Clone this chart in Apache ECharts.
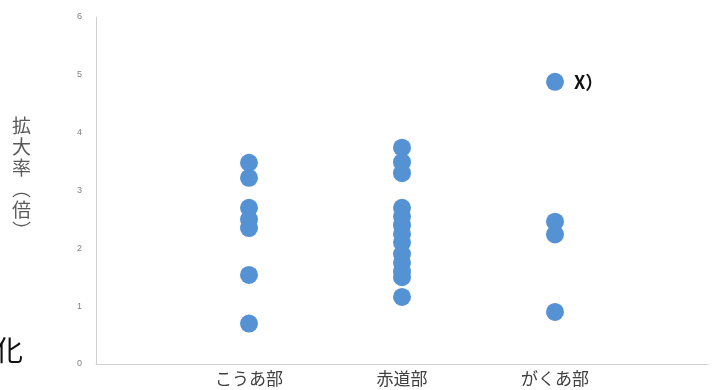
<!DOCTYPE html>
<html>
<head>
<meta charset="utf-8">
<style>
  html, body { margin: 0; padding: 0; background: #ffffff; }
  #chart { width: 718px; height: 390px; }
</style>
<script src="https://cdn.jsdelivr.net/npm/echarts@6/dist/echarts.min.js"></script>
</head>
<body>
<div id="chart"></div>
<script>
// Sites sampled (placed at x = 1, 2, 3 on the horizontal value axis)
const categories = ['こうあ部', '赤道部', 'がくあ部'];

// Magnification ratio (times) per site
const kouabu = [3.48, 3.22, 2.70, 2.50, 2.35, 1.54, 0.70];
const sekidobu = [3.74, 3.49, 3.30, 2.70, 2.55, 2.40, 2.25, 2.10, 1.90, 1.75, 1.60, 1.50, 1.16];
const gakuabu = [4.88, 2.46, 2.24, 0.90];

// Value axis ticks
const yTicks = [0, 1, 2, 3, 4, 5, 6];

// Point flagged with an annotation
const flaggedValue = 4.88;
const flaggedText = 'X）';

const groups = [kouabu, sekidobu, gakuabu];
const points = [];
groups.forEach(function (vals, i) {
  vals.forEach(function (v) {
    const p = { value: [i + 1, v] };
    if (v === flaggedValue && i === 2) {
      p.label = {
        show: true,
        position: 'right',
        distance: 10,
        formatter: flaggedText,
        color: '#111111',
        fontSize: 18,
        fontWeight: 'bold',
        fontFamily: 'Noto Sans CJK JP'
      };
    }
    points.push(p);
  });
});

const chart = echarts.init(document.getElementById('chart'), null, { renderer: 'canvas' });
chart.setOption({
  animation: false,
  backgroundColor: '#ffffff',
  grid: { left: 96, right: 10, top: 17, bottom: 26 },
  xAxis: {
    type: 'value',
    min: 0,
    max: 4,
    interval: 1,
    splitLine: { show: false },
    axisTick: { show: false },
    axisLine: { show: true, lineStyle: { color: '#d0d0d0', width: 1 } },
    axisLabel: {
      margin: 6,
      fontSize: 17,
      color: '#404040',
      fontFamily: 'Noto Sans CJK JP',
      formatter: function (v) {
        const k = Math.round(v) - 1;
        return categories[k] !== undefined && Math.abs(v - Math.round(v)) < 1e-6 ? categories[k] : '';
      }
    }
  },
  yAxis: {
    type: 'value',
    min: yTicks[0],
    max: yTicks[yTicks.length - 1],
    interval: 1,
    splitLine: { show: false },
    axisTick: { show: false },
    axisLine: { show: true, lineStyle: { color: '#d0d0d0', width: 1 } },
    axisLabel: {
      margin: 14,
      fontSize: 9,
      color: '#808080',
      fontFamily: 'Liberation Sans'
    }
  },
  series: [{
    type: 'scatter',
    symbol: 'circle',
    symbolSize: 18,
    itemStyle: { color: '#5592d4', opacity: 1 },
    data: points
  }],
  graphic: [
    {
      type: 'text',
      left: 12,
      top: 115,
      style: {
        text: '拡\n大\n率\n︵\n倍\n︶',
        fontSize: 19,
        lineHeight: 21,
        fill: '#595959',
        fontFamily: 'Noto Sans CJK JP',
        align: 'center'
      }
    },
    {
      type: 'text',
      left: -5,
      top: 336,
      style: {
        text: '化',
        fontSize: 28,
        fill: '#111111',
        fontFamily: 'Noto Sans CJK JP'
      }
    }
  ]
});
</script>
</body>
</html>
